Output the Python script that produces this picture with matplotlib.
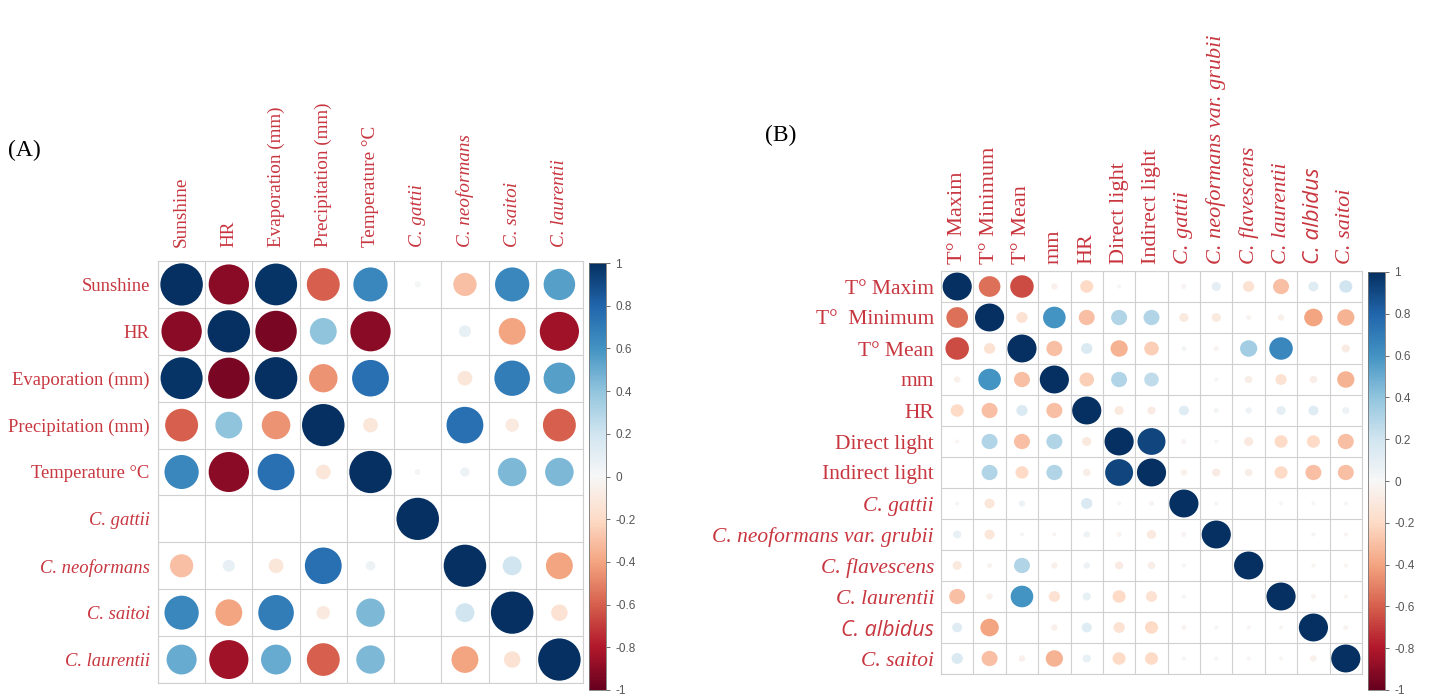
import numpy as np
import matplotlib
matplotlib.use("Agg")
import matplotlib.pyplot as plt
from matplotlib.patches import Ellipse
from matplotlib.cm import ScalarMappable
from matplotlib.colors import Normalize

# --- correlation matrices ---
vars_a = ["Sunshine", "HR", "Evaporation (mm)", "Precipitation (mm)", "Temperature °C",
          "C. gattii", "C. neoformans", "C. saitoi", "C. laurentii"]
italic_a = [False, False, False, False, False, True, True, True, True]

corr_a = [
    [1.00, -0.90, 0.98, -0.60, 0.65, 0.02, -0.30, 0.65, 0.55],
    [-0.90, 1.00, -0.95, 0.40, -0.90, 0.00, 0.08, -0.40, -0.85],
    [0.98, -0.95, 1.00, -0.45, 0.75, 0.00, -0.12, 0.70, 0.55],
    [-0.60, 0.40, -0.45, 1.00, -0.12, 0.00, 0.75, -0.10, -0.60],
    [0.65, -0.90, 0.75, -0.12, 1.00, 0.02, 0.05, 0.45, 0.45],
    [0.00, 0.00, 0.00, 0.00, 0.00, 1.00, 0.00, 0.00, 0.00],
    [-0.30, 0.08, -0.12, 0.75, 0.05, 0.00, 1.00, 0.20, -0.40],
    [0.65, -0.40, 0.70, -0.10, 0.45, 0.00, 0.20, 1.00, -0.15],
    [0.50, -0.85, 0.50, -0.60, 0.45, 0.00, -0.40, -0.15, 1.00],
]

vars_b = ["T° Maxim", "T° Minimum", "T° Mean", "mm", "HR", "Direct light", "Indirect light",
          "C. gattii", "C. neoformans var. grubii", "C. flavescens", "C. laurentii",
          "C. albidus", "C. saitoi"]
rows_b = ["T° Maxim", "T°  Minimum", "T° Mean", "mm", "HR", "Direct light", "Indirect light",
          "C. gattii", "C. neoformans var. grubii", "C. flavescens", "C. laurentii",
          "C. albidus", "C. saitoi"]
italic_b = [False] * 7 + [True] * 6

corr_b = [
    [1.00, -0.55, -0.65, -0.05, -0.20, 0.02, 0.00, -0.03, 0.10, -0.15, -0.30, 0.12, 0.20],
    [-0.55, 1.00, -0.15, 0.60, -0.30, 0.30, 0.30, -0.10, -0.10, -0.03, -0.05, -0.40, -0.35],
    [-0.65, -0.15, 1.00, -0.30, 0.15, -0.35, -0.25, 0.03, -0.03, 0.35, 0.65, 0.00, -0.08],
    [-0.05, 0.60, -0.30, 1.00, -0.25, 0.30, 0.25, 0.00, -0.02, -0.07, -0.15, -0.07, -0.35],
    [-0.20, -0.30, 0.15, -0.30, 1.00, -0.10, -0.08, 0.12, 0.03, 0.05, 0.10, 0.12, 0.06],
    [-0.02, 0.30, -0.30, 0.30, -0.10, 1.00, 0.92, -0.03, -0.02, -0.10, -0.20, -0.20, -0.30],
    [0.00, 0.30, -0.20, 0.30, -0.07, 0.92, 1.00, -0.05, -0.08, -0.07, -0.20, -0.30, -0.30],
    [-0.02, -0.12, 0.05, 0.00, 0.15, -0.02, -0.03, 1.00, -0.02, 0.00, -0.02, -0.02, -0.02],
    [0.08, -0.12, 0.02, -0.02, 0.05, -0.03, -0.10, -0.03, 1.00, 0.00, 0.00, -0.02, -0.02],
    [-0.10, -0.03, 0.30, -0.05, 0.05, -0.08, -0.07, -0.02, 0.00, 1.00, 0.00, -0.02, -0.02],
    [-0.30, -0.05, 0.60, -0.15, 0.08, -0.20, -0.15, -0.02, 0.00, 0.00, 1.00, -0.03, -0.02],
    [0.12, -0.40, 0.00, -0.05, 0.12, -0.15, -0.20, -0.03, -0.02, -0.02, -0.02, 1.00, -0.03],
    [0.15, -0.30, -0.05, -0.35, 0.08, -0.20, -0.20, -0.02, -0.02, -0.02, -0.02, -0.05, 1.00],
]

cbar_ticks = [-1, -0.8, -0.6, -0.4, -0.2, 0, 0.2, 0.4, 0.6, 0.8, 1]

W, H = 1429, 698
LABEL_RED = "#c8363f"
SERIF = "Liberation Serif"
cmap = plt.get_cmap("RdBu")
norm = Normalize(-1, 1)

fig = plt.figure(figsize=(W / 100, H / 100), dpi=100)


def px_axes(x0, y0, x1, y1):
    # pixel box (top-left origin) -> figure fraction axes
    return fig.add_axes([x0 / W, 1 - y1 / H, (x1 - x0) / W, (y1 - y0) / H])


def corr_panel(box, cbox, cols, rows, italic, mat, col_fs, row_fs, col_pad, row_pad):
    ax = px_axes(*box)
    m = np.array(mat)
    n = m.shape[0]
    ax.set_xlim(0, n)
    ax.set_ylim(n, 0)
    for i in range(n):
        for j in range(n):
            r = m[i, j]
            d = 0.9 * np.sqrt(abs(r))
            if d > 0:
                ax.add_patch(Ellipse((j + 0.5, i + 0.5), d, d, facecolor=cmap(norm(r)),
                                     edgecolor="none"))
    for k in range(n + 1):
        ax.axhline(k, color="#d0d0d0", lw=0.8, zorder=0)
        ax.axvline(k, color="#d0d0d0", lw=0.8, zorder=0)
    for s in ax.spines.values():
        s.set_color("#d0d0d0")
        s.set_linewidth(0.8)

    ax.xaxis.tick_top()
    ax.set_xticks(np.arange(n) + 0.5)
    ax.set_xticklabels(cols, rotation=90, fontsize=col_fs, family=SERIF, color=LABEL_RED)
    ax.set_yticks(np.arange(n) + 0.5)
    ax.set_yticklabels(rows, fontsize=row_fs, family=SERIF, color=LABEL_RED)
    ax.tick_params(length=0)
    ax.tick_params(axis="x", pad=col_pad)
    ax.tick_params(axis="y", pad=row_pad)
    for lab, it in zip(ax.get_xticklabels(), italic):
        if it:
            lab.set_style("italic")
    for lab, it in zip(ax.get_yticklabels(), italic):
        if it:
            lab.set_style("italic")

    cax = px_axes(*cbox)
    cb = fig.colorbar(ScalarMappable(norm=norm, cmap=cmap), cax=cax, ticks=cbar_ticks)
    cb.ax.set_yticklabels([f"{t:g}" for t in cbar_ticks])
    cb.ax.tick_params(labelsize=8.5, colors="#555555", length=3, width=0.6)
    for lab in cb.ax.get_yticklabels():
        lab.set_family("Liberation Sans")
    cb.outline.set_edgecolor("#777777")
    cb.outline.set_linewidth(0.6)
    return ax


ax_a = corr_panel((158, 261, 583, 683), (589, 263, 606, 690),
                  vars_a, vars_a, italic_a, corr_a, 13.8, 13.4, 10, 6)
ax_b = corr_panel((941, 271, 1362, 674), (1368, 272, 1385, 690),
                  vars_b, rows_b, italic_b, corr_b, 16, 15.5, 5, 5)

# C. albidus is set in a different typeface
for lab in ax_b.get_xticklabels() + ax_b.get_yticklabels():
    if lab.get_text() == "C. albidus":
        lab.set_family("Open Sans")

fig.text(8 / W, 1 - 150 / H, "(A)", fontsize=17, family=SERIF, va="center", ha="left")
fig.text(765 / W, 1 - 135 / H, "(B)", fontsize=17, family=SERIF, va="center", ha="left")

fig.savefig("out.png", dpi=100)
